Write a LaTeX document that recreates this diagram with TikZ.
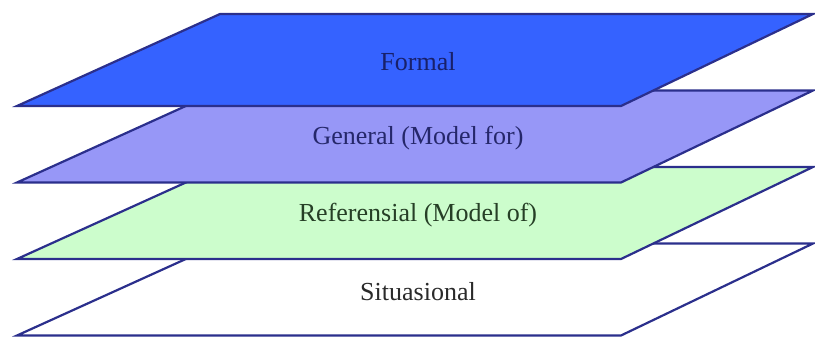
\documentclass[tikz,border=0pt]{standalone}
\usepackage{fontspec}
\setmainfont{Liberation Serif}
\usepackage{tikz}
\usetikzlibrary{calc}
\definecolor{edgeblue}{HTML}{2B2F8C}
\definecolor{formalfill}{HTML}{3562FF}
\definecolor{generalfill}{HTML}{9797F7}
\definecolor{reffill}{HTML}{CCFDCC}
\definecolor{formaltext}{HTML}{18206A}
\definecolor{generaltext}{HTML}{25276A}
\definecolor{reftext}{HTML}{263F26}
\definecolor{sittext}{HTML}{2A2A2A}
\tikzset{layer/.style={draw=edgeblue, line width=2.2pt, line join=miter}}
\tikzset{layerlabel/.style={inner sep=0pt, font=\fontsize{26}{29}\selectfont}}

\begin{document}
\begin{tikzpicture}[x=1pt, y=-1pt]
    \useasboundingbox (0,0) rectangle (815,337);
    % layers, drawn from the bottom one up
    \foreach \i/\fillc/\txtc/\txt in {3/white/sittext/Situasional,
            2/reffill/reftext/Referensial (Model of),
            1/generalfill/generaltext/General (Model for),
            0/formalfill/formaltext/Formal}{
        \coordinate (bl\i) at (17, 106+76.5*\i);
        \coordinate (br\i) at (621, 106+76.5*\i);
        \coordinate (tr\i) at (813, 14+76.5*\i);
        \coordinate (tl\i) at (220, 14+76.5*\i);
        \draw[layer, fill=\fillc] (bl\i) -- (br\i) -- (tr\i) -- (tl\i) -- cycle;
        \node[layerlabel, text=\txtc] (label\i)
            at ($(bl\i)!0.5!(tr\i)+(3,2)$) {\txt};
    }
\end{tikzpicture}
\end{document}
